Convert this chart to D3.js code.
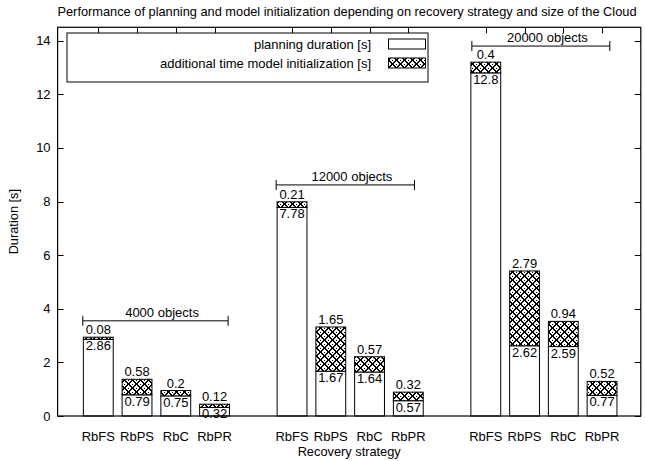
<!DOCTYPE html>
<html>
<head>
<meta charset="utf-8">
<script src="https://cdn.jsdelivr.net/npm/d3@7"></script>
<style>
  html, body { margin: 0; padding: 0; background: #fff; }
  svg { display: block; font-family: "Liberation Sans", Arial, Helvetica, sans-serif; }
</style>
</head>
<body>
<svg id="chart" width="645" height="461"></svg>
<script>
// Recovery strategies shown in every object-count group
const strategies = ["RbFS", "RbPS", "RbC", "RbPR"];
// Object counts of the Cloud model (one histogram group each)
const groups = ["4000 objects", "12000 objects", "20000 objects"];
// Planning duration [s], per group, per strategy
const planning = [
  [2.86, 0.79, 0.75, 0.32],
  [7.78, 1.67, 1.64, 0.57],
  [12.8, 2.62, 2.59, 0.77]
];
// Additional time for model initialization [s], per group, per strategy
const initTime = [
  [0.08, 0.58, 0.2, 0.12],
  [0.21, 1.65, 0.57, 0.32],
  [0.4, 2.79, 0.94, 0.52]
];
// Group brackets: start / end slot and height [s]
const bracketStart = [0.6, 5.59, 10.64];
const bracketEnd = [4.35, 9.16, 14.2];
const bracketLevel = [3.55, 8.62, 13.8];
// Y axis tick values
const yTicks = [0, 2, 4, 6, 8, 10, 12, 14];

const svg = d3.select("#chart");
const plot = { left: 57.6, right: 640.8, top: 27.3, bottom: 416 };
const FS = 13;

// Each group occupies 4 slots followed by one empty slot
const slot = (g, i) => g * 5 + i + 1;

const x = d3.scaleLinear().domain([-0.05, 15]).range([plot.left, plot.right]);
const y = d3.scaleLinear().domain([0, 14.5]).range([plot.bottom, plot.top]);
const barW = x(0.77) - x(0);

// Crosshatch fill built from single pixels: two 2px diagonal line sets,
// with a dot in the middle of each diamond-shaped gap
const defs = svg.append("defs");
const pat = defs.append("pattern")
  .attr("id", "hatch").attr("patternUnits", "userSpaceOnUse")
  .attr("width", 8).attr("height", 8)
  .attr("shape-rendering", "crispEdges");
pat.append("rect").attr("width", 8).attr("height", 8).attr("fill", "#fff");
for (let i = 0; i < 8; i++) {
  for (let j = 0; j < 8; j++) {
    const d1 = (i - j + 8) % 8, d2 = (i + j) % 8;
    const onLine = d1 <= 1 || d2 === 7 || d2 === 0;
    const dot = d1 === 4 && d2 === 4;
    if (onLine || dot) pat.append("rect").attr("x", i).attr("y", j)
      .attr("width", 1).attr("height", 1).attr("fill", "#000");
  }
}

// Title
svg.append("text")
  .attr("x", 347).attr("y", 16)
  .attr("text-anchor", "middle")
  .attr("font-size", 12.8)
  .text("Performance of planning and model initialization depending on recovery strategy and size of the Cloud");

// Tick marks (drawn first, bars cover the bottom ones)
const tickLen = 6;
const ticks = svg.append("g").attr("stroke", "#000").attr("stroke-width", 1);
yTicks.forEach(v => {
  const yy = Math.round(y(v)) + 0.5;
  ticks.append("line").attr("x1", plot.left).attr("x2", plot.left + tickLen).attr("y1", yy).attr("y2", yy);
  ticks.append("line").attr("x1", plot.right).attr("x2", plot.right - tickLen).attr("y1", yy).attr("y2", yy);
});
groups.forEach((g, gi) => strategies.forEach((s, si) => {
  const xx = Math.round(x(slot(gi, si))) + 0.5;
  ticks.append("line").attr("x1", xx).attr("x2", xx).attr("y1", plot.top).attr("y2", plot.top + tickLen);
  ticks.append("line").attr("x1", xx).attr("x2", xx).attr("y1", plot.bottom).attr("y2", plot.bottom - tickLen);
}));

// Y tick labels
svg.append("g").selectAll("text").data(yTicks).join("text")
  .attr("x", plot.left - 7).attr("y", d => y(d) + 4.5)
  .attr("text-anchor", "end").attr("font-size", FS)
  .text(d => d);

// Bars
const bars = svg.append("g");
groups.forEach((g, gi) => strategies.forEach((s, si) => {
  const cx = x(slot(gi, si));
  const p = planning[gi][si], a = initTime[gi][si];
  bars.append("rect")
    .attr("x", cx - barW / 2).attr("width", barW)
    .attr("y", y(p)).attr("height", y(0) - y(p))
    .attr("fill", "#fff").attr("stroke", "#000").attr("stroke-width", 1);
  bars.append("rect")
    .attr("x", cx - barW / 2).attr("width", barW)
    .attr("y", y(p + a)).attr("height", y(p) - y(p + a))
    .attr("fill", "url(#hatch)").attr("stroke", "#000").attr("stroke-width", 1);
}));

// Value labels
const labels = svg.append("g").attr("font-size", FS).attr("text-anchor", "middle");
groups.forEach((g, gi) => strategies.forEach((s, si) => {
  const cx = x(slot(gi, si));
  const p = planning[gi][si], a = initTime[gi][si];
  labels.append("text").attr("x", cx).attr("y", y(p + a) - 3).text(a);
  labels.append("text").attr("x", cx).attr("y", y(p) + 11).text(p);
}));

// Group brackets
const br = svg.append("g");
groups.forEach((g, gi) => {
  const x1 = x(bracketStart[gi]), x2 = x(bracketEnd[gi]), yy = y(bracketLevel[gi]);
  br.append("line").attr("x1", x1).attr("x2", x2).attr("y1", yy).attr("y2", yy)
    .attr("stroke", "#000").attr("stroke-width", 1);
  [x1, x2].forEach(xx => br.append("line").attr("x1", xx).attr("x2", xx)
    .attr("y1", yy - 5).attr("y2", yy + 5).attr("stroke", "#000").attr("stroke-width", 1));
  br.append("text")
    .attr("x", x((bracketStart[gi] + bracketEnd[gi]) / 2 + 0.17))
    .attr("y", yy - 4)
    .attr("text-anchor", "middle").attr("font-size", FS)
    .text(g);
});

// Plot frame
svg.append("rect")
  .attr("x", plot.left).attr("y", plot.top)
  .attr("width", plot.right - plot.left).attr("height", plot.bottom - plot.top)
  .attr("fill", "none").attr("stroke", "#000").attr("stroke-width", 1.2);

// Legend
const lg = svg.append("g");
lg.append("rect").attr("x", 67).attr("y", 33).attr("width", 361).attr("height", 49)
  .attr("fill", "#fff").attr("stroke", "#000").attr("stroke-width", 1);
const legendItems = [
  { label: "planning duration [s]", fill: "#fff" },
  { label: "additional time model initialization [s]", fill: "url(#hatch)" }
];
legendItems.forEach((d, i) => {
  const cy = 44 + i * 19;
  lg.append("text").attr("x", 371).attr("y", cy + 4.5)
    .attr("text-anchor", "end").attr("font-size", FS).text(d.label);
  lg.append("rect").attr("x", 388.5).attr("y", cy - 5).attr("width", 37).attr("height", 10)
    .attr("fill", d.fill).attr("stroke", "#000").attr("stroke-width", 1);
});

// Category labels
const cat = svg.append("g").attr("font-size", FS).attr("text-anchor", "middle");
groups.forEach((g, gi) => strategies.forEach((s, si) => {
  cat.append("text").attr("x", x(slot(gi, si))).attr("y", 441).text(s);
}));

// Axis titles
svg.append("text").attr("x", (plot.left + plot.right) / 2).attr("y", 456)
  .attr("text-anchor", "middle").attr("font-size", 12.8).text("Recovery strategy");
svg.append("text")
  .attr("transform", `translate(18,${(plot.top + plot.bottom) / 2}) rotate(-90)`)
  .attr("text-anchor", "middle").attr("font-size", 12.8).text("Duration [s]");
</script>
</body>
</html>
